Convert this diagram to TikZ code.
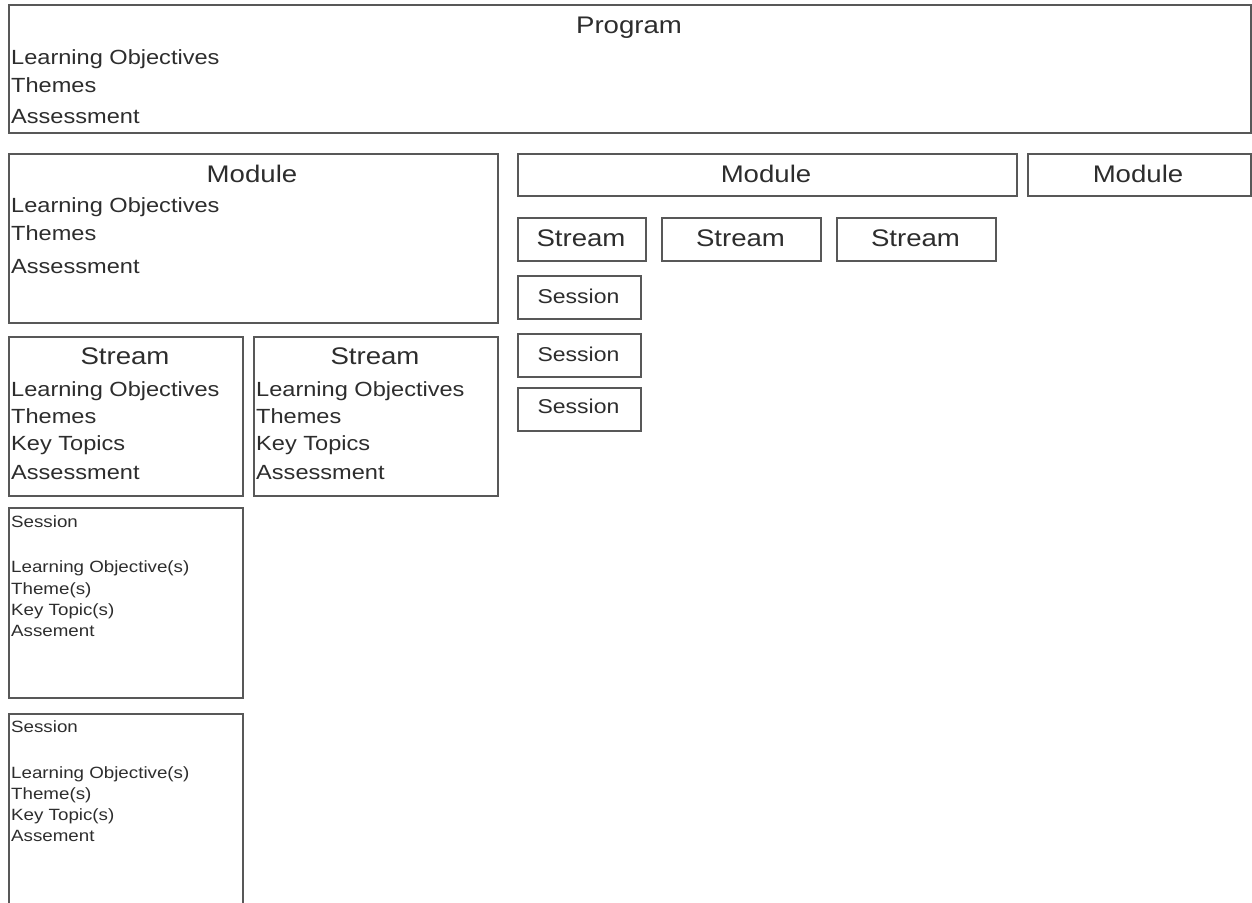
\documentclass[tikz,border=0pt]{standalone}
\usepackage{fontspec}
\setmainfont{Liberation Sans}[FakeStretch=1.15]
\definecolor{boxgray}{RGB}{88,88,88}
\definecolor{txt}{RGB}{45,45,45}
\begin{document}
\begin{tikzpicture}[x=1pt,y=-1pt,
  box/.style={draw=boxgray, line width=1.6pt, anchor=north west, inner sep=0pt, fill=white},
  title/.style={font=\fontsize{24}{28}\selectfont, anchor=base, inner sep=0pt, text=txt},
  body/.style={font=\fontsize{20.5}{24}\selectfont, anchor=base west, inner sep=0pt, text=txt},
  small/.style={font=\fontsize{16.3}{20}\selectfont, anchor=base west, inner sep=0pt, text=txt},
  sess/.style={font=\fontsize{20}{24}\selectfont, anchor=base, inner sep=0pt, text=txt}]
\useasboundingbox[fill=white] (0,0) rectangle (1252,902);

% Program
\node[box, minimum width=1242pt, minimum height=128pt] (prog) at (8,4) {};
\node[title] (progT) at (629,33) {Program};
\node[body] (progL1) at (11,64) {Learning Objectives};
\node[body] (progL2) at (11,92) {Themes};
\node[body] (progL3) at (11,123) {Assessment};

% Module 1
\node[box, minimum width=489pt, minimum height=169pt] (mod1) at (8,153) {};
\node[title] (mod1T) at (252,182) {Module};
\node[body] (mod1L1) at (11,212) {Learning Objectives};
\node[body] (mod1L2) at (11,240) {Themes};
\node[body] (mod1L3) at (11,273) {Assessment};

% Module 2 and 3
\node[box, minimum width=499pt, minimum height=42pt] (mod2) at (517,153) {};
\node[title] (mod2T) at (766,182) {Module};
\node[box, minimum width=223pt, minimum height=42pt] (mod3) at (1027,153) {};
\node[title] (mod3T) at (1138,182) {Module};

% Streams (right)
\node[box, minimum width=128pt, minimum height=43pt] (strA) at (517,217) {};
\node[title] (strAT) at (581,246) {Stream};
\node[box, minimum width=159pt, minimum height=43pt] (strB) at (661,217) {};
\node[title] (strBT) at (740.5,246) {Stream};
\node[box, minimum width=159pt, minimum height=43pt] (strC) at (836,217) {};
\node[title] (strCT) at (915.5,246) {Stream};

% Sessions (right)
\node[box, minimum width=123pt, minimum height=43pt] (sesA) at (517,275) {};
\node[sess] (sesAT) at (578.5,303) {Session};
\node[box, minimum width=123pt, minimum height=43pt] (sesB) at (517,333) {};
\node[sess] (sesBT) at (578.5,361) {Session};
\node[box, minimum width=123pt, minimum height=43pt] (sesC) at (517,387) {};
\node[sess] (sesCT) at (578.5,413) {Session};

% Streams (left)
\node[box, minimum width=234pt, minimum height=159pt] (strL1) at (8,336) {};
\node[title] (strL1T) at (125,364) {Stream};
\node[body] (strL1a) at (11,396) {Learning Objectives};
\node[body] (strL1b) at (11,423) {Themes};
\node[body] (strL1c) at (11,450) {Key Topics};
\node[body] (strL1d) at (11,479) {Assessment};

\node[box, minimum width=244pt, minimum height=159pt] (strL2) at (253,336) {};
\node[title] (strL2T) at (375,364) {Stream};
\node[body] (strL2a) at (256,396) {Learning Objectives};
\node[body] (strL2b) at (256,423) {Themes};
\node[body] (strL2c) at (256,450) {Key Topics};
\node[body] (strL2d) at (256,479) {Assessment};

% Sessions (left)
\node[box, minimum width=234pt, minimum height=190pt] (sesL1) at (8,507) {};
\node[small] (sesL1a) at (11,527) {Session};
\node[small] (sesL1b) at (11,572.5) {Learning Objective(s)};
\node[small] (sesL1c) at (11,594) {Theme(s)};
\node[small] (sesL1d) at (11,615.5) {Key Topic(s)};
\node[small] (sesL1e) at (11,636.5) {Assement};

\node[box, minimum width=234pt, minimum height=200pt] (sesL2) at (8,713) {};
\node[small] (sesL2a) at (11,732) {Session};
\node[small] (sesL2b) at (11,778) {Learning Objective(s)};
\node[small] (sesL2c) at (11,799) {Theme(s)};
\node[small] (sesL2d) at (11,820) {Key Topic(s)};
\node[small] (sesL2e) at (11,841) {Assement};
\end{tikzpicture}
\end{document}
